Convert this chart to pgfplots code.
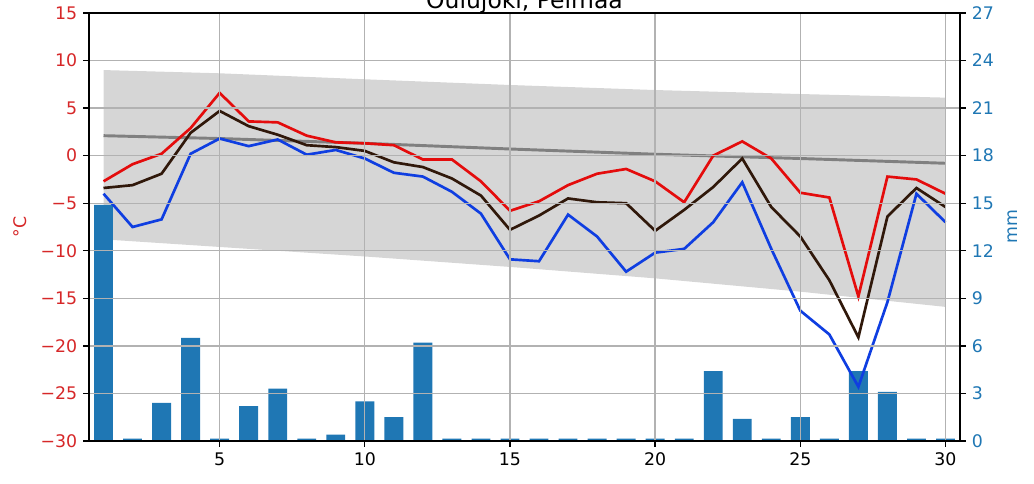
\documentclass[border=0pt]{standalone}
\usepackage{fontspec}
\setmainfont{DejaVu Sans}
\usepackage{pgfplots}
\usepackage{pgfplotstable}
\pgfplotsset{compat=1.18}
\usepgfplotslibrary{fillbetween}

\definecolor{tred}{RGB}{214,39,40}
\definecolor{tblue}{RGB}{31,119,180}
\definecolor{lred}{RGB}{228,12,12}
\definecolor{lblue}{RGB}{15,62,225}
\definecolor{lblack}{RGB}{48,24,10}
\definecolor{bandgray}{RGB}{214,214,214}
\definecolor{gridgray}{RGB}{178,178,178}
\definecolor{normgray}{RGB}{128,128,128}

% daily max, mean, min temperature and rain
\pgfplotstableread{
day tmax tmean tmin rain
1  -2.7  -3.4  -4.0  14.9
2  -0.9  -3.1  -7.5  0.15
3   0.2  -1.9  -6.7  2.4
4   2.9   2.4   0.2  6.5
5   6.6   4.7   1.8  0.15
6   3.6   3.1   1.0  2.2
7   3.5   2.2   1.7  3.3
8   2.1   1.1   0.1  0.15
9   1.4   0.9   0.6  0.4
10  1.3   0.5  -0.3  2.5
11  1.1  -0.7  -1.8  1.5
12 -0.4  -1.2  -2.2  6.2
13 -0.4  -2.4  -3.8  0.15
14 -2.7  -4.2  -6.1  0.15
15 -5.8  -7.8 -10.9  0.15
16 -4.8  -6.3 -11.1  0.15
17 -3.1  -4.5  -6.2  0.15
18 -1.9  -4.9  -8.5  0.15
19 -1.4  -5.0 -12.2  0.15
20 -2.7  -7.9 -10.2  0.15
21 -4.9  -5.7  -9.8  0.15
22  0.0  -3.3  -7.0  4.4
23  1.5  -0.3  -2.8  1.4
24 -0.3  -5.4  -9.8  0.15
25 -3.9  -8.5 -16.3  1.5
26 -4.4 -13.1 -18.8  0.15
27 -14.8 -19.1 -24.3 4.4
28 -2.2  -6.4 -15.4  3.1
29 -2.5  -3.4  -4.0  0.15
30 -4.0  -5.4  -7.0  0.15
}\daily

% long-term normal: band and mean
\pgfplotstableread{
day hi mid lo
1  9.0  2.1  -8.8
5  8.66 1.8  -9.6
10 8.03 1.3 -10.6
15 7.43 0.7 -11.7
20 6.9  0.15 -12.9
25 6.48 -0.3 -14.3
30 6.1 -0.8 -15.9
}\normal

\begin{document}
\fontsize{13}{15.6}\selectfont
\begin{tikzpicture}
\pgfplotsset{
  base/.style={
    width=653.25pt, height=321pt, scale only axis,
    xmin=0.5, xmax=30.5,
    tick align=outside, major tick length=4.3pt,
    every tick/.style={black, line width=1pt},
    axis line style={line width=1pt},
    tick label style={font=\fontsize{13}{15.6}\selectfont},
    label style={font=\fontsize{13}{15.6}\selectfont},
  }
}
\begin{axis}[base,
    ymin=-30, ymax=15,
    ytick={-30,-25,...,15},
    yticklabels={−30,−25,−20,−15,−10,−5,0,5,10,15},
    xtick={5,10,...,30},
    xticklabels={5,10,15,20,25,30},
    ytick pos=left, xtick pos=bottom,
    grid=major, grid style={gridgray, line width=1pt},
    axis on top,
    yticklabel style={tred},
    ylabel={°C},
    ylabel style={tred, at={(rel axis cs:0,0.5)}, yshift=51.75pt, anchor=center}]
  \addplot[name path=up, draw=none] table[x=day, y=hi]{\normal};
  \addplot[name path=lo, draw=none] table[x=day, y=lo]{\normal};
  \addplot[bandgray] fill between[of=up and lo];
  \coordinate (sw) at (rel axis cs:0,0);
  \coordinate (ne) at (rel axis cs:1,1);
  \coordinate (tt) at (rel axis cs:0.5,1);
\end{axis}

\begin{axis}[base,
    ymin=0, ymax=27,
    ytick={0,3,...,27},
    yticklabels={0,3,6,9,12,15,18,21,24,27},
    axis y line*=right, axis x line=none,
    yticklabel style={tblue},
    ylabel={mm},
    ylabel style={tblue, at={(rel axis cs:1,0.5)}, yshift=-39.4pt, anchor=center}]
  \addplot[ybar, bar width=0.65, bar shift=0pt, fill=tblue, draw=none] table[x=day, y=rain]{\daily};
\end{axis}

\begin{axis}[base, ymin=-30, ymax=15, hide axis]
  \addplot[normgray, line width=2.2pt] table[x=day, y=mid]{\normal};
  \addplot[lred, line width=2pt] table[x=day, y=tmax]{\daily};
  \addplot[lblack, line width=2pt] table[x=day, y=tmean]{\daily};
  \addplot[lblue, line width=2pt] table[x=day, y=tmin]{\daily};
\end{axis}

\node[anchor=base, yshift=3.4pt, font=\fontsize{17.6}{21}\selectfont] at (tt) {Oulujoki, Pelmaa};

\pgfresetboundingbox
\path[use as bounding box] ([xshift=-66.75pt, yshift=-32.25pt]sw) rectangle ([xshift=55.5pt, yshift=9.75pt]ne);
\end{tikzpicture}
\end{document}
